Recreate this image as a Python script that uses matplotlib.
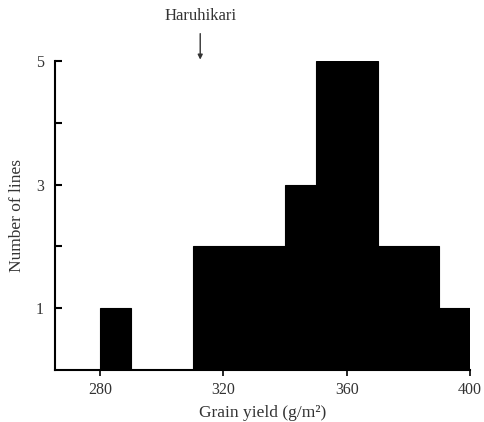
import matplotlib
matplotlib.use("Agg")
import matplotlib.pyplot as plt
import numpy as np

bin_edges = [280, 290, 300, 310, 320, 330, 340, 350, 360, 370, 380, 390, 400]
counts = [1, 0, 0, 2, 2, 2, 3, 5, 5, 2, 2, 1]
xticks = [280, 320, 360, 400]
yticks = [1, 3, 5]
yticks_minor = [2, 4]
marker_x = 312.5
marker_label = "Haruhikari"

plt.rcParams['font.family'] = ['Liberation Serif', 'DejaVu Serif']

fig = plt.figure(figsize=(4.84, 4.22), dpi=100)
ax = fig.add_axes([55/484, 1-370/422, (470-55)/484, (370-61)/422])

widths = np.diff(bin_edges)
ax.bar(bin_edges[:-1], counts, width=widths, align='edge', color='black', edgecolor='black', linewidth=0.8)

ax.set_xlim(265.4, 400)
ax.set_ylim(0, 5)
ax.spines['top'].set_visible(False)
ax.spines['right'].set_visible(False)
ax.spines['left'].set_linewidth(1.5)
ax.spines['bottom'].set_linewidth(1.5)

ax.set_xticks(xticks)
ax.set_xticklabels([str(v) for v in xticks], fontsize=11.5, color='#333333')
ax.set_yticks(yticks)
ax.set_yticklabels([str(v) for v in yticks], fontsize=11.5, color='#333333')
ax.set_yticks(yticks_minor, minor=True)
ax.tick_params(axis='y', which='both', direction='in', length=5, width=1.5, pad=8)
ax.tick_params(axis='x', direction='out', length=4, width=1.2, pad=5)

ax.set_xlabel("Grain yield (g/m²)", fontsize=12.5, color='#333333', labelpad=5)
ax.set_ylabel("Number of lines", fontsize=12.5, color='#333333', labelpad=8)

ax.annotate(marker_label, xy=(marker_x, 5.0), xytext=(marker_x, 5.6),
            ha='center', va='bottom', fontsize=12, color='#333333',
            annotation_clip=False,
            arrowprops=dict(arrowstyle='-|>', color='#333333', lw=1.0,
                            mutation_scale=7, shrinkA=5, shrinkB=1))

fig.savefig("out.png", dpi=100)
